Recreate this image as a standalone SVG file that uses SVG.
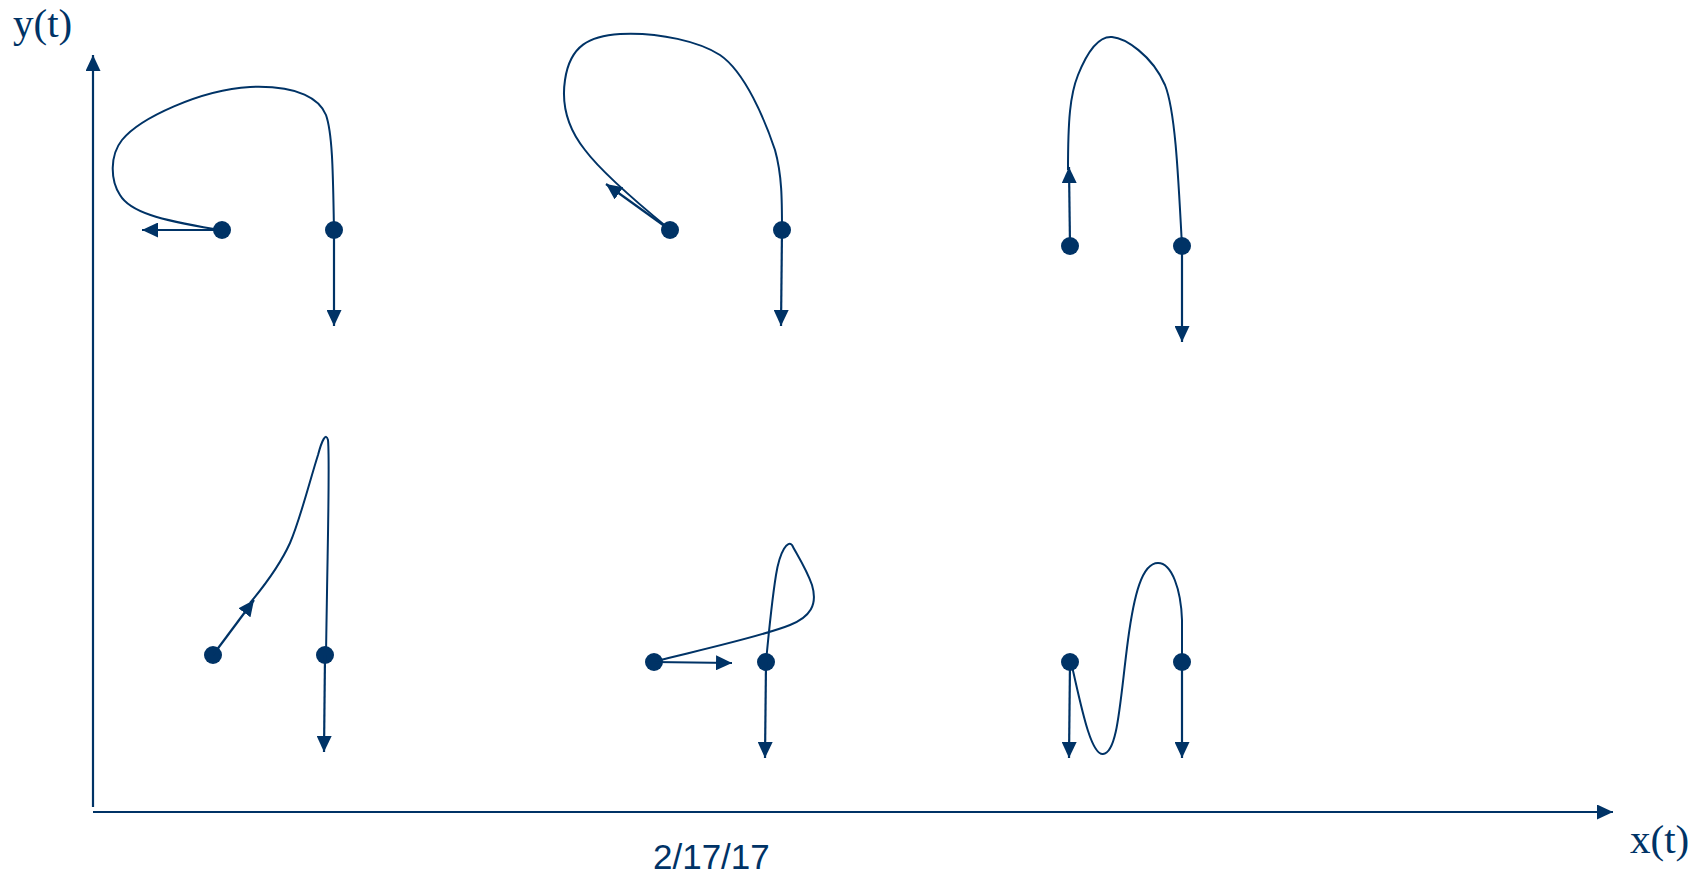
<svg xmlns="http://www.w3.org/2000/svg" width="1708" height="877" viewBox="0 0 1708 877">
<style>
.c{fill:none;stroke:#003366;stroke-width:2}
.a{fill:none;stroke:#003366;stroke-width:2.2;marker-end:url(#ah)}
.d{fill:#003366}
.lbl{font-family:"Liberation Serif",serif;font-size:41px;fill:#003366}
.date{font-family:"Liberation Sans",Arial,sans-serif;font-size:35px;fill:#003366}
</style>
<defs>
<marker id="ah" viewBox="0 0 16 15" refX="16" refY="7.5" markerWidth="16" markerHeight="15" orient="auto" markerUnits="userSpaceOnUse">
<path d="M0,0 L16,7.5 L0,15 z" fill="#003366"/>
</marker>
</defs>
<rect width="1708" height="877" fill="#ffffff"/>
<g id="axes">
<line class="a" x1="93" y1="807" x2="93" y2="55"/>
<line class="a" x1="93" y1="812" x2="1613" y2="812"/>
<text id="ylabel" class="lbl" x="13" y="37">y(t)</text>
<text id="xlabel" class="lbl" x="1630" y="853">x(t)</text>
<text id="date" class="date" x="653" y="869">2/17/17</text>
</g>
<g id="fig1">
<path class="c" d="M214,229 C160,220 130,212 120,195 C110,180 110,155 122,140 C140,118 200,90 250,87 C300,85 320,100 326,115 C333,135 333,180 334,230"/>
<circle id="n1a" class="d" cx="222" cy="230" r="9"/>
<circle id="n1b" class="d" cx="334" cy="230" r="9"/>
</g>
<g id="fig2">
<path class="c" d="M668,228 C640,205 600,170 585,150 C565,125 562,100 565,80 C570,45 590,36 620,34 C660,32 700,42 720,55 C745,72 765,120 775,150 C782,175 782,200 782,230"/>
<circle id="n2a" class="d" cx="670" cy="230" r="9"/>
<circle id="n2b" class="d" cx="782" cy="230" r="9"/>
</g>
<g id="fig3">
<path class="c" d="M1068,170 C1068,120 1070,95 1078,75 C1088,50 1100,36 1112,37 C1125,38 1152,55 1165,85 C1175,110 1178,170 1182,246"/>
<circle id="n3a" class="d" cx="1070" cy="246" r="9"/>
<circle id="n3b" class="d" cx="1182" cy="246" r="9"/>
</g>
<g id="fig4">
<path class="c" d="M250,603 C265,585 280,565 290,543 C300,520 310,480 318,455 C322,440 326,432 328,440 C330,460 328,520 326,655"/>
<circle id="n4a" class="d" cx="213" cy="655" r="9"/>
<circle id="n4b" class="d" cx="325" cy="655" r="9"/>
</g>
<g id="fig5">
<path class="c" d="M656,661 C700,650 760,637 790,625 C810,617 818,605 812,585 C806,568 796,553 792,545 C788,540 780,550 776,575 C772,600 769,630 766,662"/>
<circle id="n5a" class="d" cx="654" cy="662" r="9"/>
<circle id="n5b" class="d" cx="766" cy="662" r="9"/>
</g>
<g id="fig6">
<path class="c" d="M1071,662 C1080,700 1090,755 1103,754 C1118,753 1120,700 1128,640 C1134,595 1142,563 1158,563 C1172,563 1181,590 1182,620 L1182,662"/>
<circle id="n6a" class="d" cx="1070" cy="662" r="9"/>
<circle id="n6b" class="d" cx="1182" cy="662" r="9"/>
</g>
<g id="connectors">
<line class="a" x1="222" y1="230" x2="142" y2="230"/>
<line class="a" x1="334" y1="230" x2="334" y2="326"/>
<line class="a" x1="670" y1="230" x2="606" y2="184"/>
<line class="a" x1="782" y1="230" x2="781" y2="326"/>
<line class="a" x1="1070" y1="246" x2="1069" y2="167"/>
<line class="a" x1="1182" y1="246" x2="1182" y2="342"/>
<line class="a" x1="213" y1="655" x2="254" y2="600"/>
<line class="a" x1="325" y1="655" x2="324" y2="752"/>
<line class="a" x1="654" y1="662" x2="732" y2="663"/>
<line class="a" x1="766" y1="662" x2="765" y2="758"/>
<line class="a" x1="1070" y1="662" x2="1069" y2="758"/>
<line class="a" x1="1182" y1="662" x2="1182" y2="758"/>
</g>
</svg>
